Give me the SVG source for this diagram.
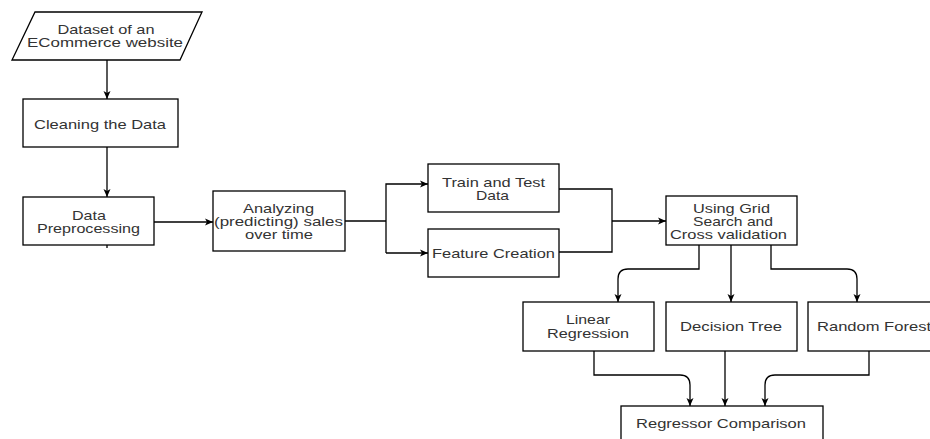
<svg xmlns="http://www.w3.org/2000/svg" width="930" height="439" viewBox="0 0 930 439">
<defs>
<style>
.box{fill:#fff;stroke:#000;stroke-width:1.3}
.t{font-family:"Liberation Sans",Arial,sans-serif;font-size:13px;fill:#333;text-anchor:middle}
.c{fill:none;stroke:#000;stroke-width:1.3}
</style>
<marker id="ah" viewBox="0 0 8 8" markerWidth="8" markerHeight="8" markerUnits="userSpaceOnUse" refX="8" refY="4" orient="auto">
<path d="M0,0.5 L8,4 L0,7.5 L2,4 z" fill="#000"/>
</marker>
</defs>
<rect width="930" height="439" fill="#fff"/>
<g id="connectors">
<path class="c" d="M107,60 V99" marker-end="url(#ah)"/>
<path class="c" d="M107,147 V197" marker-end="url(#ah)"/>
<path class="c" d="M107,245 V248"/>
<path class="c" d="M154,222 H213" marker-end="url(#ah)"/>
<path class="c" d="M345,221 H386"/>
<path class="c" d="M386,253 V184 H428" marker-end="url(#ah)"/>
<path class="c" d="M386,253 H428" marker-end="url(#ah)"/>
<path class="c" d="M559,189 H612 V252 H559"/>
<path class="c" d="M612,221 H666" marker-end="url(#ah)"/>
<path class="c" d="M699,245 V269 H628 Q618,269 618,279 V302" marker-end="url(#ah)"/>
<path class="c" d="M731,245 V302" marker-end="url(#ah)"/>
<path class="c" d="M771,245 V269 H847 Q857,269 857,279 V302" marker-end="url(#ah)"/>
<path class="c" d="M594,351 V375 H680 Q690,375 690,385 V406" marker-end="url(#ah)"/>
<path class="c" d="M725,351 V406" marker-end="url(#ah)"/>
<path class="c" d="M869,351 V375 H775 Q765,375 765,385 V406" marker-end="url(#ah)"/>
</g>
<g id="dataset">
<polygon class="box" points="35,12 202,12 180,60 12,60"/>
<text class="t" x="106" y="34" textLength="97" lengthAdjust="spacingAndGlyphs">Dataset of an</text>
<text class="t" x="105" y="47" textLength="156" lengthAdjust="spacingAndGlyphs">ECommerce website</text>
</g>
<g id="cleaning">
<rect class="box" x="23" y="99" width="155" height="48"/>
<text class="t" x="100" y="128.5" textLength="132" lengthAdjust="spacingAndGlyphs">Cleaning the Data</text>
</g>
<g id="preprocessing">
<rect class="box" x="23" y="197" width="131" height="48"/>
<text class="t" x="89" y="219.5" textLength="34" lengthAdjust="spacingAndGlyphs">Data</text>
<text class="t" x="88.5" y="233" textLength="103" lengthAdjust="spacingAndGlyphs">Preprocessing</text>
</g>
<g id="analyzing">
<rect class="box" x="213" y="191" width="132" height="60"/>
<text class="t" x="278.5" y="213" textLength="71" lengthAdjust="spacingAndGlyphs">Analyzing</text>
<text class="t" x="278.5" y="226" textLength="129" lengthAdjust="spacingAndGlyphs">(predicting) sales</text>
<text class="t" x="279" y="239" textLength="68" lengthAdjust="spacingAndGlyphs">over time</text>
</g>
<g id="train">
<rect class="box" x="428" y="164" width="131" height="48"/>
<text class="t" x="493.5" y="187" textLength="103" lengthAdjust="spacingAndGlyphs">Train and Test</text>
<text class="t" x="492.5" y="200" textLength="33" lengthAdjust="spacingAndGlyphs">Data</text>
</g>
<g id="feature">
<rect class="box" x="428" y="229" width="131" height="48"/>
<text class="t" x="493.5" y="258" textLength="123" lengthAdjust="spacingAndGlyphs">Feature Creation</text>
</g>
<g id="gridsearch">
<rect class="box" x="666" y="196" width="131" height="49"/>
<text class="t" x="731.5" y="213" textLength="77" lengthAdjust="spacingAndGlyphs">Using Grid</text>
<text class="t" x="733" y="226" textLength="80" lengthAdjust="spacingAndGlyphs">Search and</text>
<text class="t" x="728.5" y="238.5" textLength="117" lengthAdjust="spacingAndGlyphs">Cross validation</text>
</g>
<g id="linear">
<rect class="box" x="523" y="302" width="131" height="49"/>
<text class="t" x="588" y="324" textLength="44" lengthAdjust="spacingAndGlyphs">Linear</text>
<text class="t" x="588" y="337.5" textLength="82" lengthAdjust="spacingAndGlyphs">Regression</text>
</g>
<g id="decision">
<rect class="box" x="666" y="302" width="131" height="49"/>
<text class="t" x="731" y="331" textLength="102" lengthAdjust="spacingAndGlyphs">Decision Tree</text>
</g>
<g id="randomforest">
<rect class="box" x="808" y="302" width="132" height="49"/>
<text class="t" x="874" y="331" textLength="114" lengthAdjust="spacingAndGlyphs">Random Forest</text>
</g>
<g id="comparison">
<rect class="box" x="621" y="406" width="202" height="40"/>
<text class="t" x="721" y="427.5" textLength="170" lengthAdjust="spacingAndGlyphs">Regressor Comparison</text>
</g>
</svg>
